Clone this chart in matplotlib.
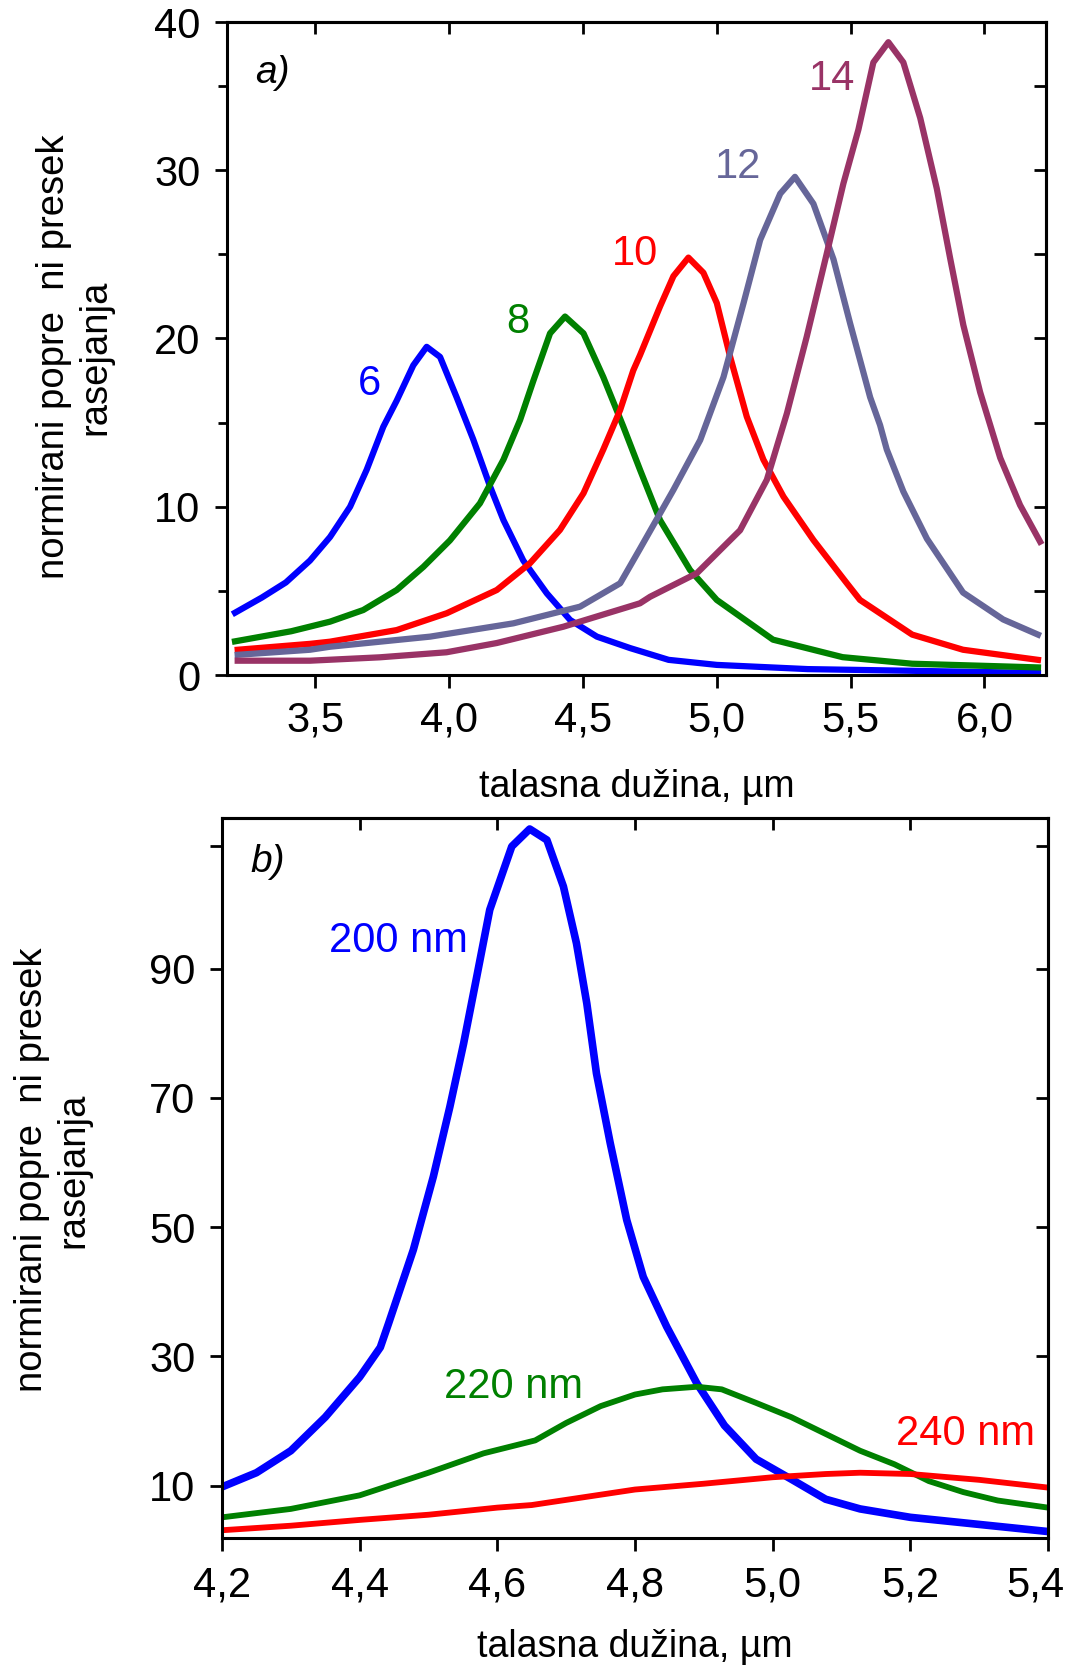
import matplotlib
matplotlib.use('Agg')
import matplotlib.pyplot as plt
from matplotlib.ticker import FixedLocator
from matplotlib.transforms import ScaledTranslation

plt.rcParams['font.family'] = ['Liberation Sans', 'DejaVu Sans']

# ============ DATA: panel a) ============
A_X6 = [3.20, 3.30, 3.39, 3.48, 3.555, 3.63, 3.692, 3.754, 3.804, 3.866, 3.916, 3.966, 4.028,
        4.09, 4.153, 4.203, 4.277, 4.365, 4.452, 4.552, 4.676, 4.82, 5.00, 5.34, 5.73, 6.20]
A_Y6 = [3.7, 4.6, 5.5, 6.8, 8.2, 10.0, 12.2, 14.75, 16.3, 18.4, 19.5, 18.9, 16.5,
        14.0, 11.2, 9.2, 6.8, 4.85, 3.27, 2.28, 1.6, 0.9, 0.6, 0.35, 0.25, 0.12]

A_X8 = [3.20, 3.41, 3.555, 3.679, 3.804, 3.904, 4.003, 4.115, 4.203, 4.265, 4.315, 4.377,
        4.433, 4.502, 4.576, 4.651, 4.713, 4.788, 4.90, 5.00, 5.21, 5.47, 5.73, 6.20]
A_Y8 = [2.0, 2.6, 3.17, 3.86, 5.05, 6.43, 8.0, 10.2, 12.8, 15.15, 17.5, 20.3,
        21.3, 20.3, 17.7, 14.75, 12.2, 9.2, 6.24, 4.46, 2.1, 1.06, 0.67, 0.45]

A_X10 = [3.21, 3.48, 3.555, 3.804, 3.991, 4.178, 4.302, 4.414, 4.502, 4.576, 4.639, 4.688,
         4.713, 4.788, 4.838, 4.894, 4.95, 5.00, 5.05, 5.112, 5.174, 5.249, 5.361, 5.486,
         5.535, 5.73, 5.92, 6.20]
A_Y10 = [1.5, 1.85, 1.98, 2.67, 3.67, 5.05, 6.64, 8.62, 10.8, 13.4, 15.75, 18.1,
         19.0, 21.9, 23.7, 24.8, 23.9, 22.1, 18.9, 15.35, 12.8, 10.6, 8.02, 5.45,
         4.46, 2.4, 1.5, 0.9]

A_X12 = [3.21, 3.48, 3.555, 3.929, 4.24, 4.489, 4.639, 4.713, 4.838, 4.938, 5.025, 5.10,
         5.162, 5.237, 5.292, 5.361, 5.436, 5.498, 5.573, 5.61, 5.635, 5.697, 5.785, 5.92,
         6.07, 6.20]
A_Y12 = [1.2, 1.5, 1.68, 2.28, 3.07, 4.06, 5.45, 7.5, 11.0, 13.96, 17.7, 22.1,
         25.85, 28.6, 29.6, 28.0, 24.7, 20.9, 16.5, 14.85, 13.4, 10.9, 8.1, 4.9,
         3.3, 2.4]

A_X14 = [3.21, 3.48, 3.74, 3.99, 4.178, 4.427, 4.713, 4.751, 4.925, 5.087, 5.187, 5.262,
         5.336, 5.411, 5.473, 5.529, 5.585, 5.641, 5.697, 5.76, 5.822, 5.872, 5.921, 5.984,
         6.059, 6.133, 6.208]
A_Y14 = [0.85, 0.85, 1.05, 1.35, 1.9, 2.87, 4.26, 4.65, 6.04, 8.6, 11.6, 15.55,
         20.1, 25.05, 29.2, 32.4, 36.4, 37.6, 36.4, 33.1, 28.9, 24.75, 20.8, 16.8,
         12.9, 10.1, 7.92]

A_XTICKS = [3.5, 4.0, 4.5, 5.0, 5.5, 6.0]
A_XLABELS = ['3,5', '4,0', '4,5', '5,0', '5,5', '6,0']
A_YTICKS = [0, 10, 20, 30, 38.8]
A_YLABELS = ['0', '10', '20', '30', '40']
A_YMINOR = [5, 15, 25, 35]

# ============ DATA: panel b) ============
B_X200 = [4.20, 4.25, 4.30, 4.35, 4.40, 4.43, 4.442, 4.478, 4.507, 4.531, 4.551, 4.570, 4.589,
          4.604, 4.621, 4.647, 4.672, 4.696, 4.715, 4.730, 4.744, 4.764, 4.788, 4.812, 4.846,
          4.89, 4.93, 4.976, 5.027, 5.077, 5.127, 5.20, 5.30, 5.40]
B_Y200 = [9.8, 12.0, 15.4, 20.6, 26.8, 31.4, 35.1, 46.5, 57.8, 68.6, 78.4, 88.7, 99.1,
          103.7, 108.9, 111.6, 109.9, 102.7, 93.9, 84.6, 73.8, 63.0, 51.1, 42.3, 34.6,
          25.8, 19.3, 14.1, 11.0, 7.9, 6.4, 5.1, 4.0, 2.9]

B_X220 = [4.20, 4.30, 4.40, 4.50, 4.58, 4.655, 4.70, 4.75, 4.80, 4.84, 4.89, 4.926, 4.976,
          5.027, 5.077, 5.127, 5.177, 5.227, 5.277, 5.327, 5.40]
B_Y220 = [5.1, 6.4, 8.5, 12.0, 15.0, 17.0, 19.7, 22.3, 24.1, 24.9, 25.3, 24.9, 22.8,
          20.6, 18.0, 15.4, 13.3, 10.7, 9.0, 7.7, 6.6]

B_X240 = [4.20, 4.30, 4.40, 4.50, 4.60, 4.65, 4.80, 4.90, 5.00, 5.077, 5.127, 5.20, 5.30, 5.40]
B_Y240 = [3.1, 3.8, 4.7, 5.5, 6.6, 7.0, 9.4, 10.3, 11.3, 11.8, 12.0, 11.8, 10.9, 9.7]

B_XTICKS = [4.2, 4.4, 4.6, 4.8, 5.0, 5.2, 5.4]
B_XLABELS = ['4,2', '4,4', '4,6', '4,8', '5,0', '5,2', '5,4']
B_YTICKS = [10, 30, 50, 70, 90, 109]
B_YLABELS = ['10', '30', '50', '70', '90', '']

YLABEL = 'normirani popre  ni presek\nrasejanja'
XLABEL = 'talasna dužina, µm'

BLUE = '#0000ff'
GREEN = '#008000'
RED = '#ff0000'
SLATE = '#666699'
PURPLE = '#993366'

TICK_FS = 30
LW_SPINE = 2.2


def style_axes(ax, xticks, xlabels, yticks, ylabels, yminor=None, xpad=9):
    for s in ax.spines.values():
        s.set_linewidth(LW_SPINE)
    ax.set_xticks(xticks)
    ax.set_xticklabels(xlabels)
    ax.set_yticks(yticks)
    ax.set_yticklabels(ylabels)
    ax.tick_params(axis='both', which='major', direction='out', length=9, width=2,
                   labelsize=TICK_FS)
    ax.tick_params(axis='x', pad=xpad)
    ax.tick_params(axis='y', pad=10)
    if yminor:
        ax.yaxis.set_minor_locator(FixedLocator(yminor))
        ax.tick_params(axis='y', which='minor', direction='out', length=6.5, width=2)
    # inward ticks on top and right
    top = ax.secondary_xaxis('top')
    top.set_xticks(xticks)
    top.tick_params(axis='x', direction='in', length=8.5, width=2, labeltop=False)
    top.spines['top'].set_linewidth(LW_SPINE)
    right = ax.secondary_yaxis('right')
    right.set_yticks(yticks[:-1] if ylabels[-1] != '' else yticks)
    if yminor:
        right.yaxis.set_minor_locator(FixedLocator(yminor))
    right.tick_params(axis='y', which='both', direction='in', length=8.5, width=2,
                      labelright=False)
    right.spines['right'].set_linewidth(LW_SPINE)


fig = plt.figure(figsize=(10.73, 16.73), dpi=100)
line_kw = dict(solid_joinstyle='round')

# ============ PANEL a) ============
ax1 = fig.add_axes([227 / 1073, 1 - 675 / 1673, 819 / 1073, 653 / 1673])
ax1.plot(A_X6, A_Y6, color=BLUE, lw=4.5, **line_kw)
ax1.plot(A_X8, A_Y8, color=GREEN, lw=4.5, **line_kw)
ax1.plot(A_X10, A_Y10, color=RED, lw=4.5, **line_kw)
ax1.plot(A_X12, A_Y12, color=SLATE, lw=4.5, **line_kw)
ax1.plot(A_X14, A_Y14, color=PURPLE, lw=4.5, **line_kw)
ax1.set_xlim(3.17, 6.23)
ax1.set_ylim(0, 38.8)
style_axes(ax1, A_XTICKS, A_XLABELS, A_YTICKS, A_YLABELS, A_YMINOR, xpad=9)
ax1.set_xlabel(XLABEL, fontsize=27, labelpad=21)

ax1.text(3.703, 17.3, '6', color=BLUE, fontsize=30, ha='center', va='center')
ax1.text(4.258, 21.0, '8', color=GREEN, fontsize=30, ha='center', va='center')
ax1.text(4.695, 25.0, '10', color=RED, fontsize=30, ha='center', va='center')
ax1.text(5.078, 30.2, '12', color=SLATE, fontsize=30, ha='center', va='center')
ax1.text(5.429, 35.4, '14', color=PURPLE, fontsize=30, ha='center', va='center')
ax1.text(0.055, 0.922, 'a)', transform=ax1.transAxes, fontsize=28, style='italic',
         ha='center', va='center')

# ============ PANEL b) ============
ax2 = fig.add_axes([222 / 1073, 1 - 1538 / 1673, 826 / 1073, 720 / 1673])
ax2.plot(B_X200, B_Y200, color=BLUE, lw=5.5, **line_kw)
ax2.plot(B_X220, B_Y220, color=GREEN, lw=4.2, **line_kw)
ax2.plot(B_X240, B_Y240, color=RED, lw=4.2, **line_kw)
ax2.set_xlim(4.2, 5.4)
ax2.set_ylim(1.9, 113.3)
style_axes(ax2, B_XTICKS, B_XLABELS, B_YTICKS, B_YLABELS, xpad=11)
ax2.set_xlabel(XLABEL, fontsize=27, labelpad=17)

# last label "5,4" sits a little left of its tick so it stays inside the figure
last = ax2.get_xticklabels()[-1]
last.set_transform(last.get_transform() + ScaledTranslation(-9 / 72, 0, fig.dpi_scale_trans))

ax2.text(4.456, 94.3, '200 nm', color=BLUE, fontsize=30, ha='center', va='center')
ax2.text(4.623, 25.3, '220 nm', color=GREEN, fontsize=30, ha='center', va='center')
ax2.text(5.28, 18.0, '240 nm', color=RED, fontsize=30, ha='center', va='center')
ax2.text(0.055, 0.939, 'b)', transform=ax2.transAxes, fontsize=28, style='italic',
         ha='center', va='center')

# y labels (two lines, rotated)
fig.text(75 / 1073, 1 - 357 / 1673, YLABEL, rotation=90, fontsize=27.5,
         ha='center', va='center', multialignment='center', linespacing=1.2)
fig.text(53 / 1073, 1 - 1170 / 1673, YLABEL, rotation=90, fontsize=27.5,
         ha='center', va='center', multialignment='center', linespacing=1.2)

fig.savefig('out.png', dpi=100)
